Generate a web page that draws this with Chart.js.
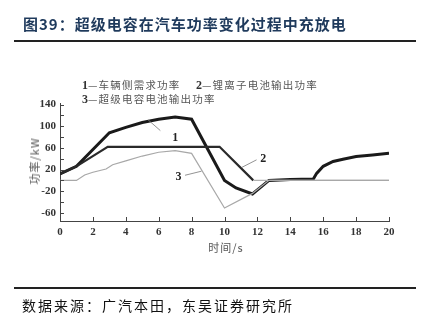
<!DOCTYPE html>
<html>
<head>
<meta charset="utf-8">
<script src="https://cdn.jsdelivr.net/npm/chart.js@4.4.0/dist/chart.umd.min.js"></script>
<style>
  body { margin: 0; width: 424px; height: 325px; position: relative; background: #fff; overflow: hidden; }
  #chart { position: absolute; left: 0; top: 0; }
  .txt { position: absolute; white-space: nowrap; }
  .title { left: 23px; top: 14px; font: bold 15px "Noto Sans CJK SC", sans-serif; color: #1f3a5c; letter-spacing: 1px; line-height: 20px; }
  .rule { position: absolute; left: 14px; width: 402px; height: 2px; background: #222; }
  .source { left: 22px; top: 296px; font: 14px "Noto Sans CJK SC", sans-serif; color: #111; letter-spacing: 2px; line-height: 18px; }
  .legend { font: 10.5px "Noto Sans CJK SC", sans-serif; color: #555; letter-spacing: 1.2px; line-height: 14px; }
  .legend b { font: bold 12px "Liberation Serif", serif; color: #333; letter-spacing: 0; }
  .ytitle { left: 34px; top: 161px; transform: translate(-50%, -50%) rotate(-90deg); font: 11px "Noto Sans CJK SC", sans-serif; color: #555; letter-spacing: 1px; }
  .xtitle { left: 226px; top: 247px; transform: translate(-50%, -50%); font: 11px "Noto Sans CJK SC", sans-serif; color: #555; letter-spacing: 1px; }
</style>
</head>
<body>
<canvas id="chart" width="424" height="325"></canvas>
<div class="txt title">图39：超级电容在汽车功率变化过程中充放电</div>
<div class="rule" style="top:40px"></div>
<div class="txt legend" style="left:82px;top:78px"><b>1</b>—车辆侧需求功率</div>
<div class="txt legend" style="left:196px;top:78px"><b>2</b>—锂离子电池输出功率</div>
<div class="txt legend" style="left:82px;top:92px"><b>3</b>—超级电容电池输出功率</div>
<div class="txt ytitle">功率/kW</div>
<div class="txt xtitle">时间/s</div>
<div class="rule" style="top:287px"></div>
<div class="txt source">数据来源：广汽本田，东吴证券研究所</div>

<script>
  // Curve 1: vehicle-side demand power
  const time1 = [0, 1, 3, 4, 5, 6, 7, 8, 10, 10.7, 11.7, 12.7, 14, 15.4, 15.6, 16, 16.6, 17.2, 18, 19, 20];
  const power1 = [12, 26, 88, 98, 107, 113, 117, 113, 0, -14, -25, 0, 1.5, 2.5, 13, 26, 35, 39, 44, 47, 50];

  // Curve 2: li-ion battery output power
  const time2 = [0, 1, 2.9, 9.7, 11.75, 20];
  const power2 = [12, 26, 62, 62, 0, 0];

  // Curve 3: supercapacitor output power
  const time3 = [0, 1, 1.5, 2, 2.8, 3.2, 4, 5, 6, 7, 8, 10, 11.7, 12.7, 20];
  const power3 = [0, 0, 10, 15, 21, 29, 36, 45, 52, 55, 50, -51, -24, 0, 0];

  const xTicks = [0, 2, 4, 6, 8, 10, 12, 14, 16, 18, 20];
  const yTicks = [-60, -40, -20, 0, 20, 40, 60, 80, 100, 120, 140];

  // curve number labels with their leader lines (data coords)
  const curveLabels = [
    { text: "1", at: [7.0, 79], from: [6.1, 92], to: [5.35, 112] },
    { text: "2", at: [12.35, 40], from: [11.95, 38], to: [11.05, 24] },
    { text: "3", at: [7.2, 6], from: [7.6, 9.5], to: [8.6, 17] }
  ];

  const toPts = (xs, ys) => xs.map((x, i) => ({ x: x, y: ys[i] }));

  // inward tick marks + curve labels
  const extras = {
    id: "extras",
    afterDraw(chart) {
      const c = chart.ctx;
      const xs = chart.scales.x, ys = chart.scales.y;
      const area = chart.chartArea;
      c.save();
      c.strokeStyle = "#444";
      c.lineWidth = 1;
      c.beginPath();
      xTicks.forEach((v) => {
        const px = Math.round(xs.getPixelForValue(v)) + 0.5;
        c.moveTo(px, area.bottom);
        c.lineTo(px, area.bottom - 4);
      });
      yTicks.forEach((v) => {
        const py = Math.round(ys.getPixelForValue(v)) + 0.5;
        c.moveTo(area.left, py);
        c.lineTo(area.left + 4, py);
      });
      c.stroke();

      c.strokeStyle = "#777";
      c.lineWidth = 0.8;
      c.fillStyle = "#222";
      c.font = "bold 12px 'Liberation Serif', serif";
      c.textAlign = "center";
      c.textBaseline = "middle";
      curveLabels.forEach((l) => {
        c.beginPath();
        c.moveTo(xs.getPixelForValue(l.from[0]), ys.getPixelForValue(l.from[1]));
        c.lineTo(xs.getPixelForValue(l.to[0]), ys.getPixelForValue(l.to[1]));
        c.stroke();
        c.fillText(l.text, xs.getPixelForValue(l.at[0]), ys.getPixelForValue(l.at[1]));
      });
      c.restore();
    }
  };

  const tickFont = { family: "'Liberation Serif', serif", size: 11, weight: "bold" };

  new Chart(document.getElementById("chart"), {
    type: "scatter",
    data: {
      datasets: [
        {
          label: "3",
          data: toPts(time3, power3),
          showLine: true,
          borderColor: "#a8a8a8",
          borderWidth: 1.2,
          pointRadius: 0,
        },
        {
          label: "2",
          data: toPts(time2, power2),
          showLine: true,
          borderColor: "#2a2a2a",
          borderWidth: 2.2,
          pointRadius: 0,
          segment: {
            borderColor: (ctx) => (ctx.p0.parsed.x >= 11.7 ? "#b0b0b0" : "#2a2a2a"),
            borderWidth: (ctx) => (ctx.p0.parsed.x >= 11.7 ? 1.2 : 2.2),
          },
        },
        {
          label: "1",
          data: toPts(time1, power1),
          showLine: true,
          borderColor: "#1a1a1a",
          borderWidth: 3,
          pointRadius: 0,
          tension: 0,
        },
      ],
    },
    options: {
      responsive: false,
      animation: false,
      devicePixelRatio: 1,
      layout: { padding: { left: 30, right: 35, top: 103, bottom: 84 } },
      plugins: { legend: { display: false }, tooltip: { enabled: false } },
      scales: {
        x: {
          type: "linear",
          min: 0,
          max: 20,
          afterBuildTicks: (s) => { s.ticks = xTicks.map((v) => ({ value: v })); },
          afterFit: (s) => { s.height = 20; },
          grid: { display: false, drawTicks: false },
          border: { display: true, color: "#444", width: 1 },
          ticks: { font: tickFont, color: "#333", padding: 5, maxRotation: 0 },
        },
        y: {
          min: -75,
          max: 143,
          afterBuildTicks: (s) => { s.ticks = yTicks.map((v) => ({ value: v })); },
          afterFit: (s) => { s.width = 30; },
          grid: { display: false, drawTicks: false },
          border: { display: true, color: "#444", width: 1 },
          ticks: { font: tickFont, color: "#333", padding: 4 },
        },
      },
    },
    plugins: [extras],
  });
</script>
</body>
</html>
